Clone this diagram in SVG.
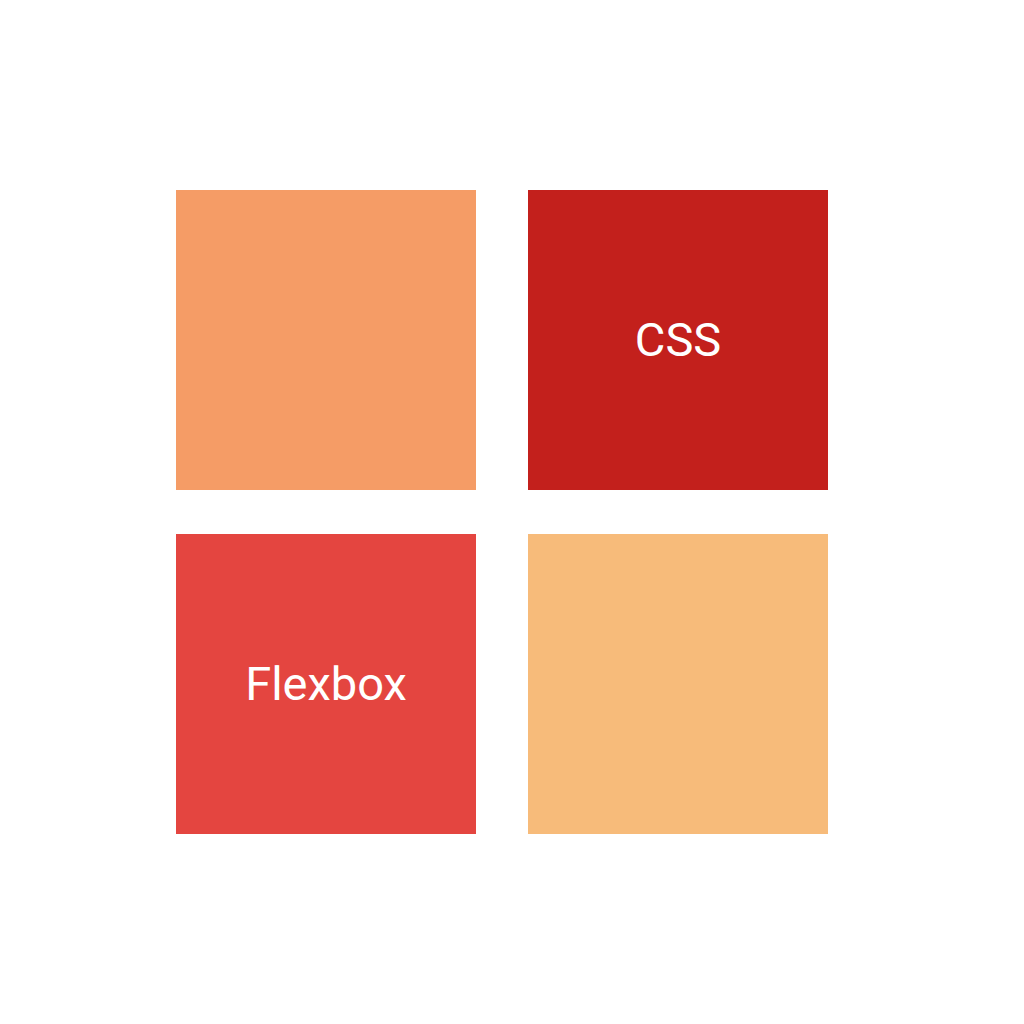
<svg xmlns="http://www.w3.org/2000/svg" width="1024" height="1024" viewBox="0 0 1024 1024">
<style>
.lbl{font-family:Roboto,"Liberation Sans",sans-serif;font-size:47px;fill:#ffffff;text-anchor:middle}
</style>
<rect width="1024" height="1024" fill="#ffffff"/>
<g id="node-tl"><rect x="176" y="190" width="300" height="300" fill="#F59C66"/></g>
<g id="node-tr"><rect x="528" y="190" width="300" height="300" fill="#C3201C"/><text class="lbl" x="678" y="356">CSS</text></g>
<g id="node-bl"><rect x="176" y="534" width="300" height="300" fill="#E44540"/><text class="lbl" x="326" y="700">Flexbox</text></g>
<g id="node-br"><rect x="528" y="534" width="300" height="300" fill="#F7BB7A"/></g>
<g id="connectors"></g>
</svg>
